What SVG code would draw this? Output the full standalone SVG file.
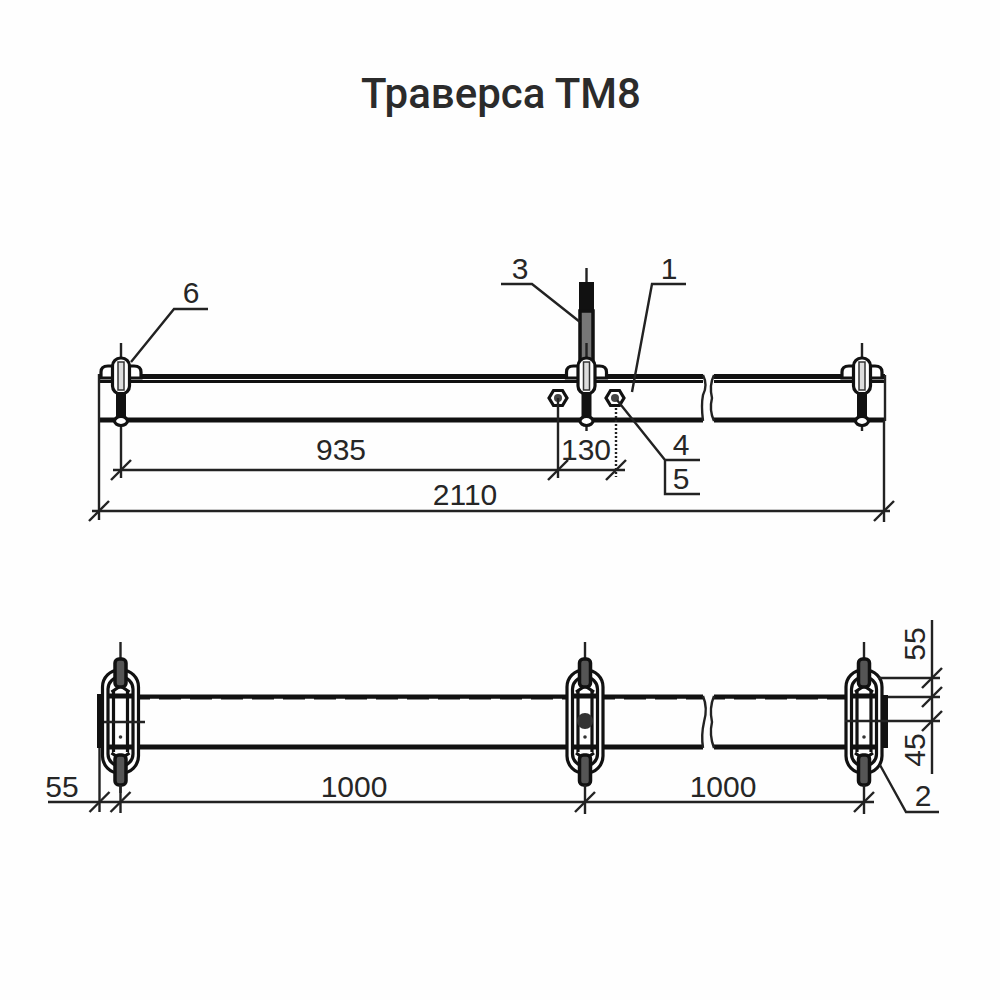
<svg xmlns="http://www.w3.org/2000/svg" width="1000" height="1000" viewBox="0 0 1000 1000">
<style>
.t{font-family:"Liberation Sans",Arial,sans-serif;font-size:30px;fill:#262626;text-anchor:middle}
.title{font-family:Roboto,"Liberation Sans",sans-serif;font-size:42px;font-weight:500;fill:#2b2b2b;text-anchor:middle}
.d{stroke:#222;stroke-width:2.400;fill:none}
.b{stroke:#111;stroke-width:3.200;fill:none}
.h{stroke:#111;stroke-width:5;fill:none}
.w{fill:#fff;stroke:#111;stroke-width:3.200}
.k{fill:#111;stroke:none}
.g{fill:#555;stroke:#111;stroke-width:3.500}
</style>
<defs>
<g id="clampTop">
<path class="d" d="M0,343V360M0,418V431"/>
<path class="w" d="M-20,378V372Q-20,366-13,366H13Q20,366 20,372V378Z"/>
<rect class="w" x="-8.500" y="358" width="17" height="36" rx="8"/>
<rect x="-3" y="362" width="6" height="28" fill="#ddd" stroke="#333" stroke-width="1.500"/>
<rect class="k" x="-5" y="392" width="10" height="26"/>
<ellipse class="w" cx="0" cy="421" rx="6.500" ry="4.500"/>
</g>
<g id="clampPlan">
<path class="d" d="M0,642V660"/>
<rect class="w" x="-18" y="670" width="36" height="103" rx="17"/>
<rect class="w" x="-12.500" y="677" width="25" height="89" rx="12"/>
<path class="b" d="M-7,690V752M7,690V752"/>
<path class="h" d="M-12,696H12M-12,747H12"/>
<path class="b" d="M-9,692L0,686L9,692M-9,753L0,759L9,753"/>
<rect class="g" x="-5.500" y="659" width="11" height="28" rx="4"/>
<rect class="g" x="-5.500" y="755" width="11" height="30" rx="4"/>
<circle cx="0" cy="737" r="1.800" fill="#333"/>
<path class="d" d="M0,785V793"/>
</g>
<g id="tick"><path class="d" d="M-10,10L10,-10"/></g>
<g id="hex"><path class="w" d="M-9,0L-4.500,-7.500H4.500L9,0L4.500,7.500H-4.500Z"/><circle r="4" fill="#444"/></g>
</defs>
<rect width="1000" height="1000" fill="#fefefe"/>
<text class="title" x="501" y="108">Траверса ТМ8</text>

<g id="beam-elevation">
<path class="h" d="M100,376.500H703M714,376.500H885"/>
<path class="b" d="M100,381.500H703M714,381.500H885"/>
<path class="h" stroke-width="4" d="M100,420H703M714,420H885"/>
<path class="d" stroke-width="3" d="M99,374V421M885,375V421"/>
<path class="d" stroke-width="2.500" d="M703,375Q708,385 703,395Q701,405 703,421M714,375Q709,385 712,398Q709,410 714,421"/>
</g>
<g id="clamp-elevation-left"><use href="#clampTop" x="121"/></g>
<g id="clamp-elevation-right"><use href="#clampTop" x="862"/></g>
<g id="rod-3">
<path class="d" d="M586.500,268V283"/>
<rect class="k" x="579" y="282" width="15" height="30"/>
<rect x="580" y="311" width="13" height="50" fill="#777" stroke="#111" stroke-width="3.500"/>
<use href="#clampTop" x="586.500"/>
</g>
<g id="bolt-a"><use href="#hex" x="558" y="398"/></g>
<g id="bolt-b"><use href="#hex" x="615" y="398"/></g>

<g id="beam-plan">
<path class="h" stroke-width="5.500" d="M135,697H703M714,697H850"/>
<path class="h" d="M135,747H703M714,747H850"/>
<path stroke="#fff" stroke-width="1.500" stroke-dasharray="9 22" d="M150,699.500H700M725,699.500H845"/>
<path class="d" stroke-width="2.500" d="M703,696Q708,708 704,722Q701,735 703,748M714,696Q709,708 712,722Q709,735 714,748"/>
</g>
<g id="plate-left"><rect class="k" x="97" y="694" width="7" height="54"/></g>
<g id="plate-right"><rect class="k" x="881" y="695" width="7" height="53"/></g>
<g id="clamp-plan-left"><use href="#clampPlan" x="120.500"/></g>
<g id="clamp-plan-middle"><use href="#clampPlan" x="585"/><circle cx="585" cy="721" r="8" fill="#333"/></g>
<g id="clamp-plan-right"><use href="#clampPlan" x="864"/></g>

<g id="connectors">
<path class="d" d="M113,470H625M121,431V478M558,398V478"/>
<path class="d" stroke-dasharray="2 2" d="M616,408V477"/>
<use href="#tick" x="121" y="470"/><use href="#tick" x="558" y="470"/><use href="#tick" x="616" y="470"/>
<path class="d" d="M92,511H890M99,421V520M884,421V522"/>
<use href="#tick" x="99" y="511"/><use href="#tick" x="884" y="511"/>
<path class="d" d="M48,802H874M99.500,748V812M120.500,785V813M585,793V814M864,793V814"/>
<use href="#tick" x="99.500" y="802"/><use href="#tick" x="120.500" y="802"/><use href="#tick" x="585" y="802"/><use href="#tick" x="864" y="802"/>
<path class="d" d="M932,620V774M878,678H940M888,697H940M845,721H940"/>
<path class="d" d="M104,722H145"/>
<use href="#tick" x="932" y="678"/><use href="#tick" x="932" y="697"/><use href="#tick" x="932" y="721"/>
<path class="d" d="M208,309H174L131,362"/>
<path class="d" d="M501,284H532L580,322"/>
<path class="d" d="M686,284H652L632,392"/>
<path class="d" d="M617,400L665,460H700M665,460V494H700"/>
<path class="d" d="M880,765L906,812H939"/>
</g>

<g id="labels">
<text class="t" x="341" y="460">935</text>
<text class="t" x="586" y="460">130</text>
<text class="t" x="465" y="505">2110</text>
<text class="t" x="62" y="797">55</text>
<text class="t" x="354" y="797">1000</text>
<text class="t" x="723" y="797">1000</text>
<text class="t" transform="translate(925,644) rotate(-90)">55</text>
<text class="t" transform="translate(925,750) rotate(-90)">45</text>
<text class="t" x="191" y="303">6</text>
<text class="t" x="520" y="279">3</text>
<text class="t" x="669" y="279">1</text>
<text class="t" x="681" y="455">4</text>
<text class="t" x="681" y="489">5</text>
<text class="t" x="923" y="806">2</text>
</g>
</svg>
